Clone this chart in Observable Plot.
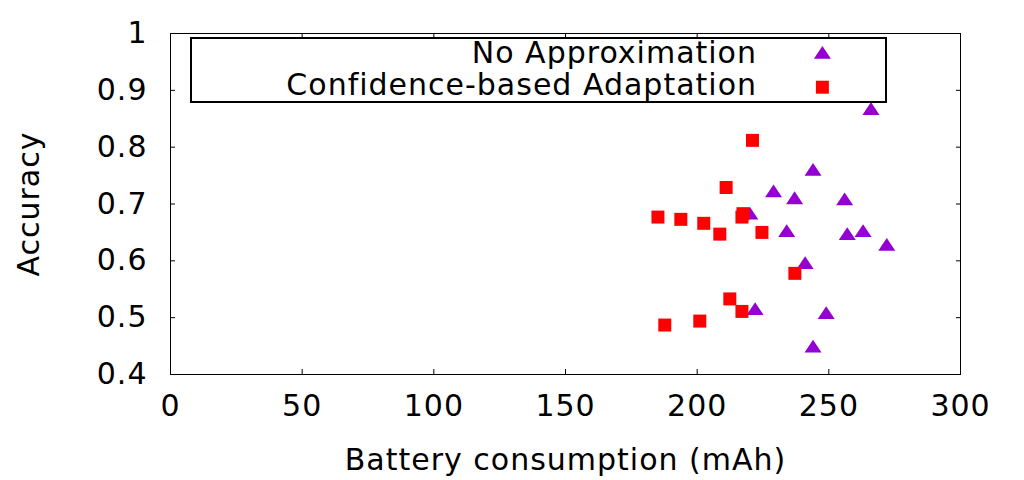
<!DOCTYPE html>
<html>
<head>
<meta charset="utf-8">
<script src="https://cdn.jsdelivr.net/npm/d3@7"></script>
<script src="https://cdn.jsdelivr.net/npm/@observablehq/plot@0.6"></script>
<style>
  body { margin: 0; background: #fff; }
  #wrap { position: relative; width: 1024px; height: 480px; font-family: "DejaVu Sans"; }
  #legend { position: absolute; left: 190px; top: 37px; width: 697px; height: 66px;
            box-sizing: border-box; border: 2px solid #000; background: #fff; }
  #legend svg { position: absolute; left: 0; top: 0; overflow: visible; }
</style>
</head>
<body>
<div id="wrap"></div>
<script>
// ---- data ----
const seriesNames = ["No Approximation", "Confidence-based Adaptation"];
const seriesColors = ["#9400d3", "#ff0000"];

const noApproxX = [266, 244, 229, 237, 256, 220, 234, 257, 263, 272, 241, 222, 249, 244];
const noApproxY = [0.868, 0.761, 0.723, 0.711, 0.709, 0.684, 0.653, 0.648, 0.653, 0.629, 0.597, 0.516, 0.509, 0.450];

const confX = [221, 211, 217.4, 217, 202.5, 208.6, 224.6, 237.1, 212.4, 217, 201, 187.7, 185.1, 193.8];
const confY = [0.812, 0.729, 0.683, 0.677, 0.666, 0.647, 0.650, 0.578, 0.533, 0.511, 0.494, 0.487, 0.677, 0.673];

const xTicks = [0, 50, 100, 150, 200, 250, 300];
const xTickLabels = ["0", "50", "100", "150", "200", "250", "300"];
const yTicks = [0.4, 0.5, 0.6, 0.7, 0.8, 0.9, 1];
const yTickLabels = ["0.4", "0.5", "0.6", "0.7", "0.8", "0.9", "1"];

const xLabel = "Battery consumption (mAh)";
const yLabel = "Accuracy";

// ---- build tables ----
const noApprox = noApproxX.map((x, i) => ({x, y: noApproxY[i]}));
const conf = confX.map((x, i) => ({x, y: confY[i]}));

// gnuplot-like markers
const triSymbol = { draw(ctx) { ctx.moveTo(0, -6.4); ctx.lineTo(8.5, 6.4); ctx.lineTo(-8.5, 6.4); ctx.closePath(); } };
const sqSymbol = { draw(ctx) { ctx.rect(-6.5, -6.5, 13, 13); } };

const chart = Plot.plot({
  width: 1024,
  height: 480,
  marginLeft: 170,
  marginRight: 64,
  marginTop: 33,
  marginBottom: 106,
  x: { domain: [0, 300] },
  y: { domain: [0.4, 1] },
  style: { fontFamily: "DejaVu Sans", fontSize: "30px", letterSpacing: "1px", background: "#fff", color: "#000", overflow: "visible" },
  marks: [
    Plot.frame({ stroke: "#000", strokeWidth: 1 }),
    // labels
    Plot.axisX({ anchor: "bottom", ticks: xTicks, tickSize: 0, tickPadding: 20,
      tickFormat: d => xTickLabels[xTicks.indexOf(d)],
      label: xLabel, labelAnchor: "center", labelOffset: 95, labelArrow: "none" }),
    Plot.axisY({ anchor: "left", ticks: yTicks, tickSize: 0, tickPadding: 23,
      tickFormat: d => yTickLabels[yTicks.indexOf(d)],
      label: yLabel, labelAnchor: "center", labelOffset: 153, labelArrow: "none" }),
    // inward ticks on all four sides
    Plot.axisX({ anchor: "bottom", ticks: xTicks, tickSize: -5, fill: "none", label: null }),
    Plot.axisX({ anchor: "top", ticks: xTicks, tickSize: -5, fill: "none", label: null }),
    Plot.axisY({ anchor: "left", ticks: yTicks, tickSize: -5, fill: "none", label: null }),
    Plot.axisY({ anchor: "right", ticks: yTicks, tickSize: -5, fill: "none", label: null }),
    // data
    Plot.dot(noApprox, { x: "x", y: "y", symbol: triSymbol, fill: seriesColors[0], stroke: "none" }),
    Plot.dot(conf, { x: "x", y: "y", symbol: sqSymbol, fill: seriesColors[1], stroke: "none" })
  ]
});

const wrap = document.getElementById("wrap");
wrap.appendChild(chart);

// legend (inside plot area, gnuplot style)
const legend = document.createElement("div");
legend.id = "legend";
const ns = "http://www.w3.org/2000/svg";
const lsvg = document.createElementNS(ns, "svg");
lsvg.setAttribute("width", 693);
lsvg.setAttribute("height", 62);
const baselines = [23.7, 56.3];
const markerY = [13.3, 48.2];
const markerPaths = ["M0,-6.4L8.5,6.4L-8.5,6.4Z", "M-6.5,-6.5h13v13h-13Z"];
seriesNames.forEach((name, i) => {
  const t = document.createElementNS(ns, "text");
  t.setAttribute("x", 565);
  t.setAttribute("y", baselines[i]);
  t.setAttribute("text-anchor", "end");
  t.setAttribute("font-family", "DejaVu Sans");
  t.setAttribute("font-size", "30px");
  t.setAttribute("letter-spacing", "1px");
  t.textContent = name;
  lsvg.appendChild(t);
  const p = document.createElementNS(ns, "path");
  p.setAttribute("d", markerPaths[i]);
  p.setAttribute("transform", `translate(630.4,${markerY[i]})`);
  p.setAttribute("fill", seriesColors[i]);
  lsvg.appendChild(p);
});
legend.appendChild(lsvg);
wrap.appendChild(legend);
</script>
</body>
</html>
